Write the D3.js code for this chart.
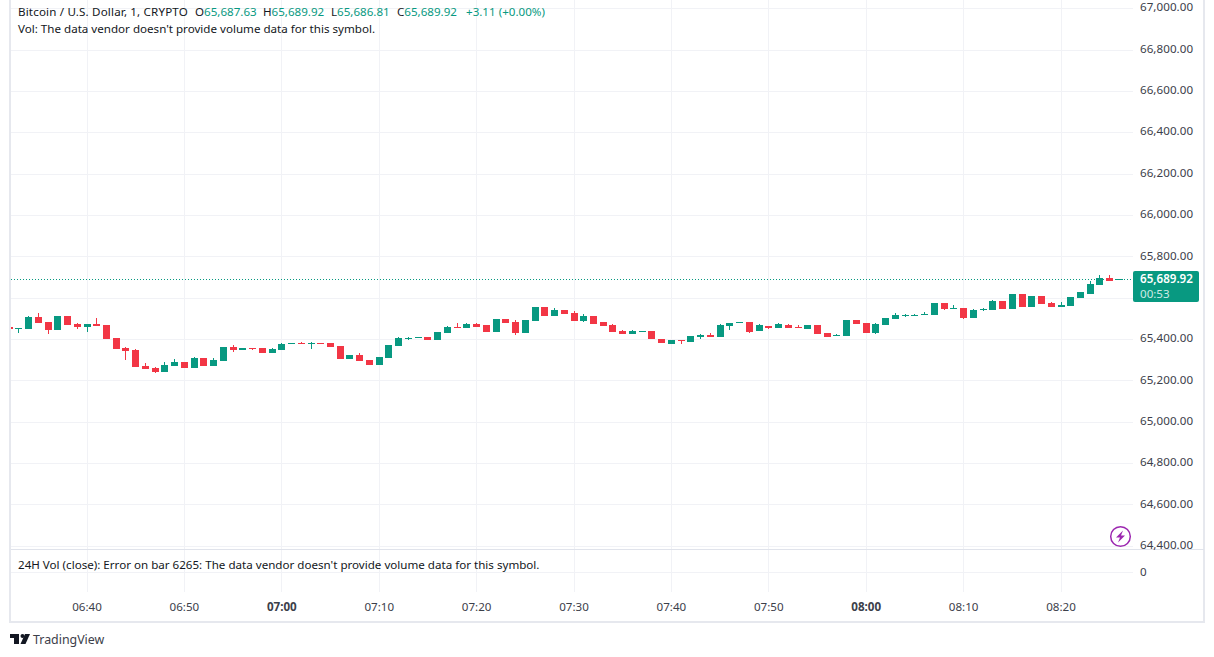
<!DOCTYPE html>
<html>
<head>
<meta charset="utf-8">
<title>BTCUSD 1m</title>
<style>
html, body { margin: 0; padding: 0; background: #fff; }
svg { display: block; }
text { font-family: "Noto Sans", sans-serif; font-size: 11.6px; fill: #131722; }
.axis path, .axis line { display: none; }
.axis text { font-family: "Noto Sans", sans-serif; font-size: 11.6px; fill: #3c404a; }
.grid line { stroke: #f1f2f6; stroke-width: 1; shape-rendering: crispEdges; }
</style>
</head>
<body>
<script src="https://cdnjs.cloudflare.com/ajax/libs/d3/7.8.5/d3.min.js"></script>
<script>
var width = 1214, height = 657;

// one candle per minute, first one is 06:32
var firstBar = new Date(2024, 0, 1, 6, 32);

var open = [65458,65448,65448,65506,65482,65444,65511,65473,65460,65473,65468,65405,65356,65347,65269,65260,65240,65269,65289,65260,65308,65269,65294,65361,65347,65356,65356,65332,65347,65378,65382,65376,65381,65381,65366,65303,65323,65298,65274,65308,65366,65400,65407,65410,65395,65429,65458,65453,65473,65468,65434,65497,65482,65429,65487,65555,65511,65540,65526,65487,65511,65482,65468,65439,65424,65434,65439,65400,65376,65395,65385,65411,65419,65410,65463,65477,65482,65439,65463,65453,65468,65458,65448,65468,65429,65415,65415,65492,65477,65429,65468,65497,65511,65513,65516,65516,65574,65545,65550,65502,65540,65540,65584,65545,65618,65555,65608,65574,65555,65560,65598,65618,65661,65695,65687.63];
var high = [65458,65453,65511,65526,65482,65511,65511,65477,65473,65502,65468,65405,65361,65352,65284,65265,65289,65303,65289,65313,65308,65308,65361,65371,65356,65356,65356,65356,65381,65381,65387,65385,65381,65381,65366,65323,65332,65298,65313,65371,65410,65410,65410,65410,65434,65463,65477,65477,65477,65468,65497,65497,65492,65492,65555,65555,65550,65540,65535,65521,65511,65482,65473,65444,65444,65439,65439,65400,65395,65395,65415,65424,65429,65473,65477,65482,65482,65473,65463,65477,65473,65468,65468,65468,65429,65424,65492,65492,65477,65477,65502,65526,65521,65521,65529,65574,65574,65564,65550,65545,65550,65589,65584,65618,65618,65608,65608,65579,65579,65603,65627,65680,65710,65710,65689.92];
var low = [65448,65429,65448,65477,65424,65444,65468,65448,65434,65465,65400,65352,65298,65265,65255,65236,65240,65269,65260,65260,65269,65269,65294,65337,65347,65347,65332,65332,65347,65378,65379,65352,65378,65361,65303,65303,65294,65274,65274,65308,65366,65395,65407,65395,65395,65429,65453,65453,65458,65434,65434,65477,65419,65429,65487,65511,65511,65521,65487,65482,65473,65463,65434,65424,65424,65434,65400,65381,65376,65376,65385,65400,65410,65410,65444,65477,65429,65439,65448,65453,65453,65453,65448,65424,65410,65415,65415,65473,65429,65424,65468,65497,65506,65511,65516,65516,65540,65545,65497,65502,65535,65540,65545,65545,65555,65555,65569,65555,65555,65560,65598,65618,65661,65680,65686.81];
var close = [65448,65453,65506,65477,65444,65511,65468,65458,65473,65465,65400,65352,65342,65265,65255,65240,65274,65289,65260,65308,65269,65298,65361,65347,65356,65350,65332,65350,65376,65381,65379,65381,65378,65361,65303,65323,65294,65274,65313,65371,65405,65405,65410,65395,65434,65458,65453,65473,65458,65434,65497,65477,65429,65492,65555,65511,65540,65521,65487,65511,65473,65463,65434,65424,65439,65439,65400,65381,65395,65390,65415,65419,65410,65468,65477,65482,65434,65468,65453,65473,65453,65453,65468,65424,65410,65419,65492,65473,65429,65473,65502,65516,65516,65516,65521,65574,65545,65550,65502,65540,65545,65584,65545,65618,65555,65608,65569,65555,65564,65603,65627,65666,65695,65680,65689.92];

var priceTicks = [64400,64600,64800,65000,65200,65400,65600,65800,66000,66200,66400,66600,66800,67000];
var timeTicks = ["06:40","06:50","07:00","07:10","07:20","07:30","07:40","07:50","08:00","08:10","08:20"];
var boldTimes = ["07:00","08:00"];
var lastPrice = 65689.92;

var parseTime = function(s) {
    var p = s.split(":");
    return new Date(2024, 0, 1, +p[0], +p[1]);
};

var green = "#089981", red = "#f23645";

var x = d3.scaleTime()
    .domain([parseTime("06:40"), parseTime("08:20")])
    .range([87.5, 1061.5]);

var y = d3.scaleLinear()
    .domain([64400, 67000])
    .range([545.7, 8.2]);

var priceFormat = d3.format(",.2f");

var svg = d3.select("body").append("svg")
    .attr("width", width)
    .attr("height", height);

svg.append("defs").append("clipPath").attr("id", "plot")
    .append("rect").attr("x", 11).attr("y", 0).attr("width", 1122).attr("height", 549);

// grid
var grid = svg.append("g").attr("class", "grid");

grid.selectAll(".v").data(timeTicks).enter().append("line")
    .attr("class", "v")
    .attr("x1", function(d) { return Math.round(x(parseTime(d))) - 0.5; })
    .attr("x2", function(d) { return Math.round(x(parseTime(d))) - 0.5; })
    .attr("y1", 0)
    .attr("y2", 592);

grid.selectAll(".h").data(priceTicks).enter().append("line")
    .attr("class", "h")
    .attr("x1", 11)
    .attr("x2", 1133)
    .attr("y1", function(d) { return Math.round(y(d)) + 0.5; })
    .attr("y2", function(d) { return Math.round(y(d)) + 0.5; });

grid.append("line").attr("x1", 11).attr("x2", 1133).attr("y1", 572.5).attr("y2", 572.5);

// frame and pane separator
svg.append("rect")
    .attr("x", 10).attr("y", -3).attr("width", 1194).attr("height", 625)
    .attr("fill", "none").attr("stroke", "#e6e8ee").attr("stroke-width", 2)
    .attr("shape-rendering", "crispEdges");

svg.append("line")
    .attr("x1", 11).attr("x2", 1204).attr("y1", 549.5).attr("y2", 549.5)
    .attr("stroke", "#e0e3eb").attr("shape-rendering", "crispEdges");

// last price line
svg.append("line")
    .attr("x1", 11).attr("x2", 1133)
    .attr("y1", Math.round(y(lastPrice)) + 0.5)
    .attr("y2", Math.round(y(lastPrice)) + 0.5)
    .attr("stroke", green).attr("stroke-width", 1).attr("stroke-dasharray", "1,2")
    .attr("shape-rendering", "crispEdges");

// candles
var candles = svg.append("g").attr("clip-path", "url(#plot)")
    .attr("shape-rendering", "crispEdges")
    .selectAll("g")
    .data(open.map(function(o, i) {
        return { t: d3.timeMinute.offset(firstBar, i), o: o, h: high[i], l: low[i], c: close[i] };
    }))
    .enter().append("g");

var colorOf = function(d) { return d.c >= d.o ? green : red; };

candles.append("line")
    .attr("x1", function(d) { return Math.round(x(d.t)) - 0.5; })
    .attr("x2", function(d) { return Math.round(x(d.t)) - 0.5; })
    .attr("y1", function(d) { return y(d.h); })
    .attr("y2", function(d) { return y(d.l); })
    .attr("stroke", colorOf);

candles.append("rect")
    .attr("x", function(d) { return Math.round(x(d.t)) - 4; })
    .attr("width", 7)
    .attr("y", function(d) { return Math.round(y(Math.max(d.o, d.c))); })
    .attr("height", function(d) { return Math.max(1, Math.round(Math.abs(y(d.o) - y(d.c)))); })
    .attr("fill", colorOf);

// price axis
svg.append("g").attr("class", "axis")
    .attr("transform", "translate(1140,0.4)")
    .call(d3.axisRight(y).tickValues(priceTicks).tickFormat(priceFormat).tickSize(0).tickPadding(0))
    .selectAll("text").attr("dy", "0.2em").style("letter-spacing", "0.05px");

svg.append("text").attr("x", 1140).attr("y", 575.5).style("fill", "#3c404a").text("0");

// time axis
var timeAxis = svg.append("g").attr("class", "axis")
    .attr("transform", "translate(-1,603)")
    .call(d3.axisBottom(x).tickValues(timeTicks.map(parseTime)).tickFormat(d3.timeFormat("%H:%M")).tickSize(0).tickPadding(0));

timeAxis.selectAll("text")
    .attr("y", 0).attr("dy", "0.72em")
    .style("font-weight", function(d) {
        return boldTimes.indexOf(d3.timeFormat("%H:%M")(d)) >= 0 ? "bold" : "normal";
    });

// last price label
svg.append("rect")
    .attr("x", 1133).attr("y", 271).attr("width", 66).attr("height", 31).attr("rx", 2)
    .attr("fill", green);
svg.append("text").attr("x", 1140).attr("y", 283)
    .style("fill", "#fff").style("font-weight", "600").text(priceFormat(lastPrice));
svg.append("text").attr("x", 1140).attr("y", 297.5)
    .style("fill", "#cdeae5").text("00:53");

// legend lines
svg.append("text").attr("x", 18).attr("y", 16).style("letter-spacing", "0.16px").text("Bitcoin / U.S. Dollar, 1, CRYPTO");
var legendItems = [
    ["O", open[open.length - 1], 195],
    ["H", high[high.length - 1], 263],
    ["L", low[low.length - 1], 331],
    ["C", close[close.length - 1], 397]
];
legendItems.forEach(function(d) {
    var t = svg.append("text").attr("x", d[2]).attr("y", 16);
    t.append("tspan").text(d[0]);
    t.append("tspan").style("fill", green).text(priceFormat(d[1]));
});
svg.append("text").attr("x", 466).attr("y", 16).style("fill", green).text("+3.11 (+0.00%)");
svg.append("text").attr("x", 18).attr("y", 33).text("Vol: The data vendor doesn't provide volume data for this symbol.");
svg.append("text").attr("x", 18).attr("y", 569).text("24H Vol (close): Error on bar 6265: The data vendor doesn't provide volume data for this symbol.");

// lightning badge
var badge = svg.append("g").attr("transform", "translate(1120.5,536.5)");
badge.append("circle").attr("r", 9.8).attr("fill", "#fff").attr("stroke", "#9c27b0").attr("stroke-width", 1.5);
badge.append("path").attr("d", "M2.5,-6 L-4.5,1 L-0.5,1 L-2.5,6 L4.5,-1 L0.5,-1 Z").attr("fill", "#9c27b0");

// footer logo
var logo = svg.append("g").attr("transform", "translate(10,634)");
logo.append("path").attr("d", "M0,0 H9 V10 H4 V4 H0 Z").attr("fill", "#131722");
logo.append("circle").attr("cx", 12.5).attr("cy", 2).attr("r", 2).attr("fill", "#131722");
logo.append("path").attr("d", "M15,0 H20 L15.5,10 H10.5 Z").attr("fill", "#131722");
svg.append("text").attr("x", 33).attr("y", 644).style("font-size", "12.4px").style("fill", "#3c404a").text("TradingView");
</script>
</body>
</html>
